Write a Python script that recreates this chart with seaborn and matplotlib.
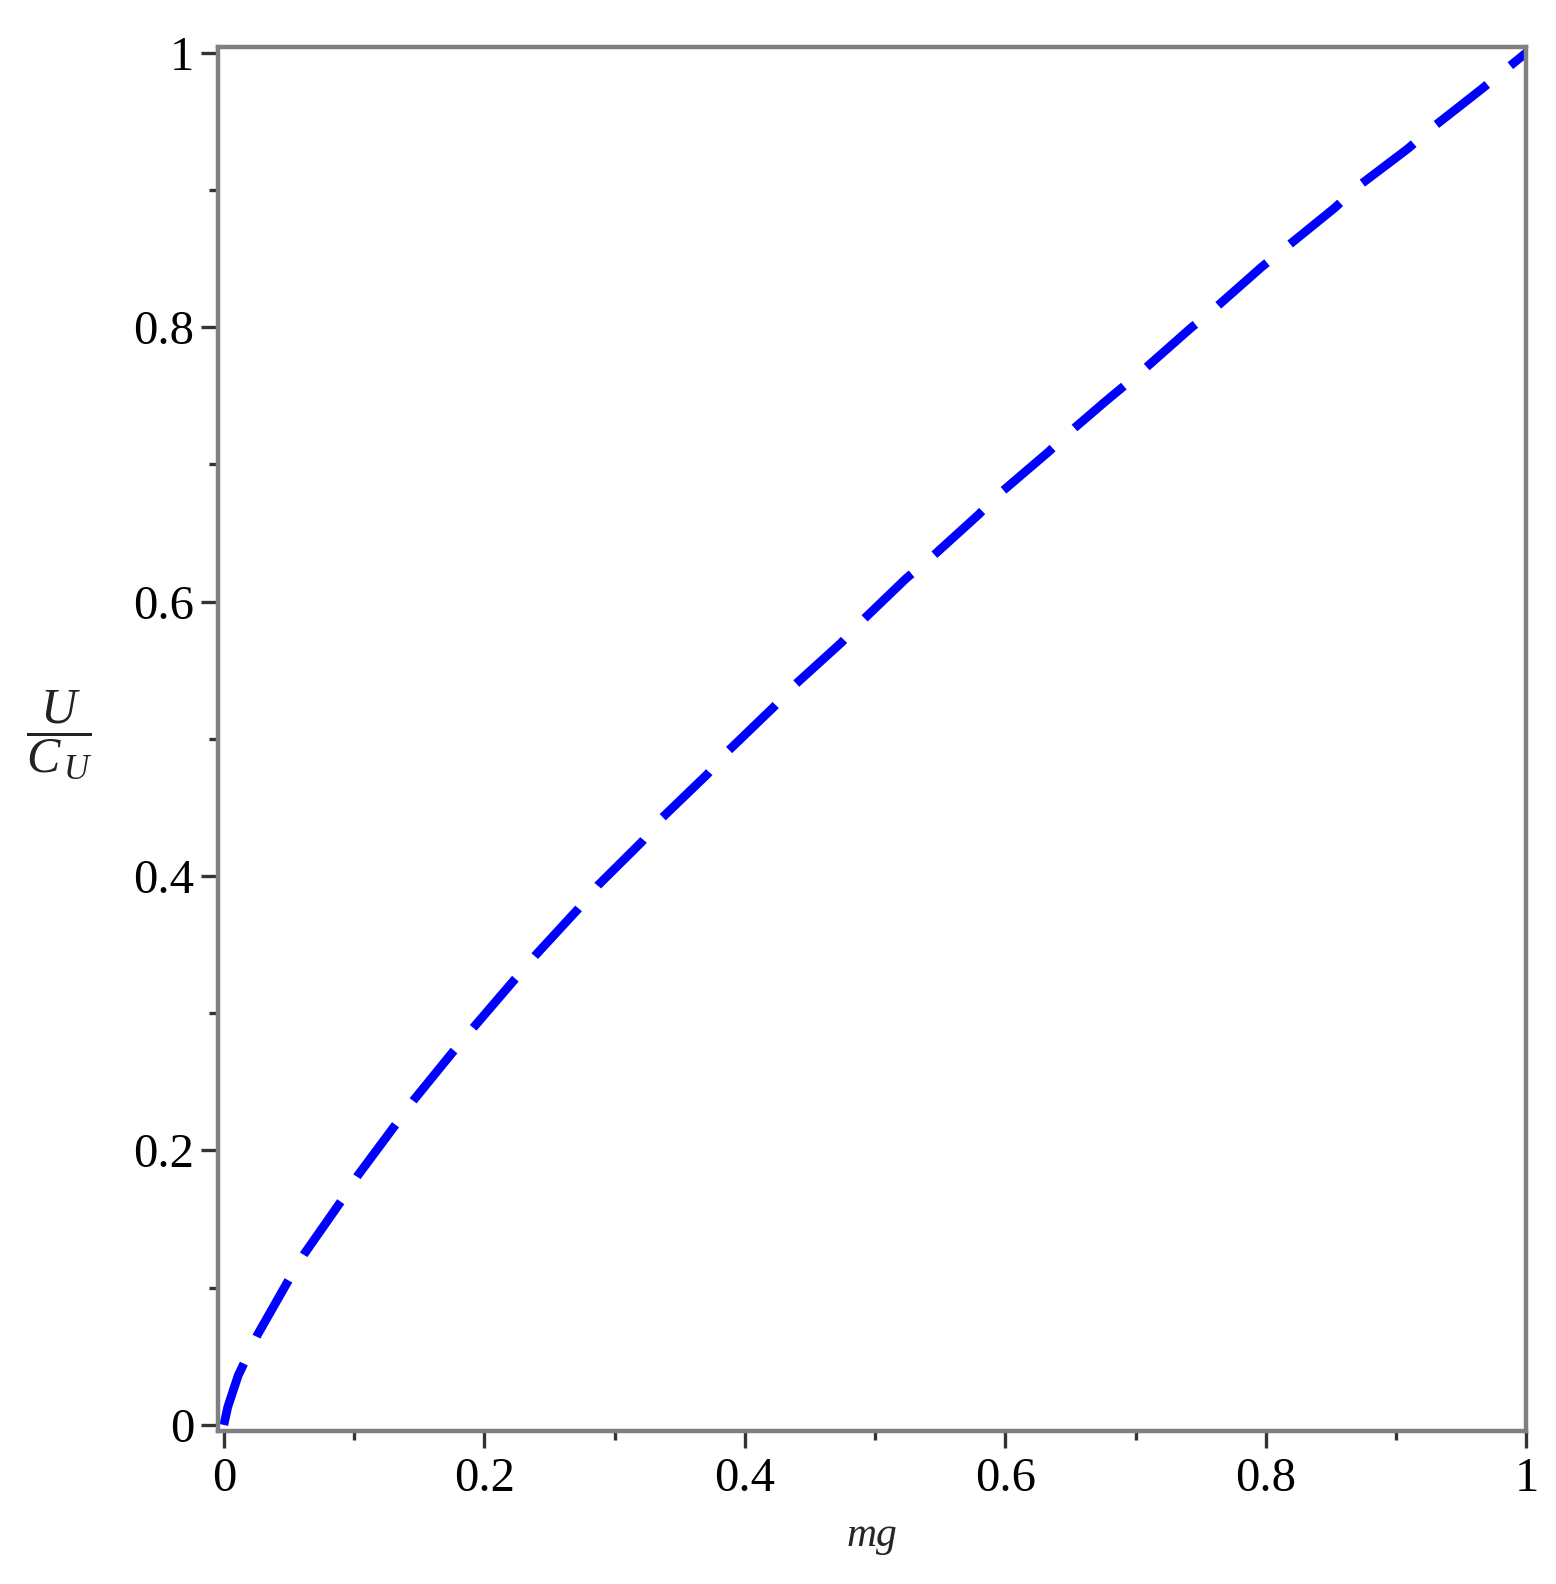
import numpy as np
import pandas as pd
import seaborn as sns
import matplotlib
matplotlib.use("Agg")
import matplotlib.pyplot as plt
from matplotlib.ticker import MultipleLocator, FixedLocator

# points
mg = [0, 0.003, 0.011, 0.026, 0.050, 0.062, 0.090, 0.103, 0.132, 0.146, 0.176,
      0.192, 0.239, 0.272, 0.287, 0.321, 0.336, 0.371, 0.387, 0.422, 0.438,
      0.474, 0.490, 0.524, 0.543, 0.579, 0.596, 0.633, 0.650, 0.677, 0.705,
      0.742, 0.760, 0.797, 0.814, 0.853, 0.870, 0.909, 0.926, 0.965, 1.0]
u_ratio = [0, 0.013, 0.036, 0.066, 0.106, 0.125, 0.163, 0.182, 0.219, 0.237, 0.272,
           0.290, 0.342, 0.376, 0.393, 0.425, 0.442, 0.474, 0.491, 0.523, 0.539,
           0.570, 0.586, 0.617, 0.632, 0.663, 0.679, 0.709, 0.724, 0.746, 0.768,
           0.799, 0.813, 0.844, 0.857, 0.887, 0.902, 0.930, 0.944, 0.973, 1.0]

major_ticks = [0, 0.2, 0.4, 0.6, 0.8, 1]
tick_labels = ["0", "0.2", "0.4", "0.6", "0.8", "1"]

sns.set_theme(style="white")
plt.rcParams['font.family'] = ['Liberation Serif', 'DejaVu Serif']
plt.rcParams['mathtext.fontset'] = 'custom'
plt.rcParams['mathtext.rm'] = 'Liberation Serif'
plt.rcParams['mathtext.it'] = 'Liberation Serif:italic'

df = pd.DataFrame({"mg": mg, "u": u_ratio})

fig = plt.figure(figsize=(15.56, 15.84), dpi=100)
ax = fig.add_axes([0.140, 0.0966, 0.841, 0.874])

sns.lineplot(data=df, x="mg", y="u", ax=ax, color="#0000ff", linewidth=6.3, sort=False)
ln = ax.lines[0]
ln.set_linestyle((0, (7.4, 3.4)))
ln.set_dash_capstyle("butt")

ax.set_xlim(-0.0046, 1.0)
ax.set_ylim(-0.0044, 1.0044)

ax.xaxis.set_major_locator(FixedLocator(major_ticks))
ax.yaxis.set_major_locator(FixedLocator(major_ticks))
ax.set_xticklabels(tick_labels)
ax.set_yticklabels(tick_labels)
ax.xaxis.set_minor_locator(MultipleLocator(0.1))
ax.yaxis.set_minor_locator(MultipleLocator(0.1))

ax.tick_params(axis="both", which="major", direction="out", length=12, width=2.4,
               color="#333333", labelsize=35, labelcolor="black")
ax.tick_params(axis="both", which="minor", direction="out", length=6.5, width=2.4,
               color="#333333")
ax.tick_params(axis="x", which="major", pad=7)
ax.tick_params(axis="y", which="major", pad=5)
ax.tick_params(left=True, bottom=True, which="both")

for sp in ax.spines.values():
    sp.set_color("#808080")
    sp.set_linewidth(3.2)
    sp.set_visible(True)

ax.set_xlabel("mg", fontsize=30, fontstyle="italic")
ax.xaxis.set_label_coords(0.5, -0.076)
ax.xaxis.label.set_va("center")

ax.set_ylabel(r"$\dfrac{U}{C_{\,U}}$", fontsize=36, rotation=0, color="#222222")
ax.yaxis.set_label_coords(-0.121, 0.503)
ax.yaxis.label.set_va("center")
ax.yaxis.label.set_ha("center")

fig.savefig("out.png", dpi=100, facecolor="white")
